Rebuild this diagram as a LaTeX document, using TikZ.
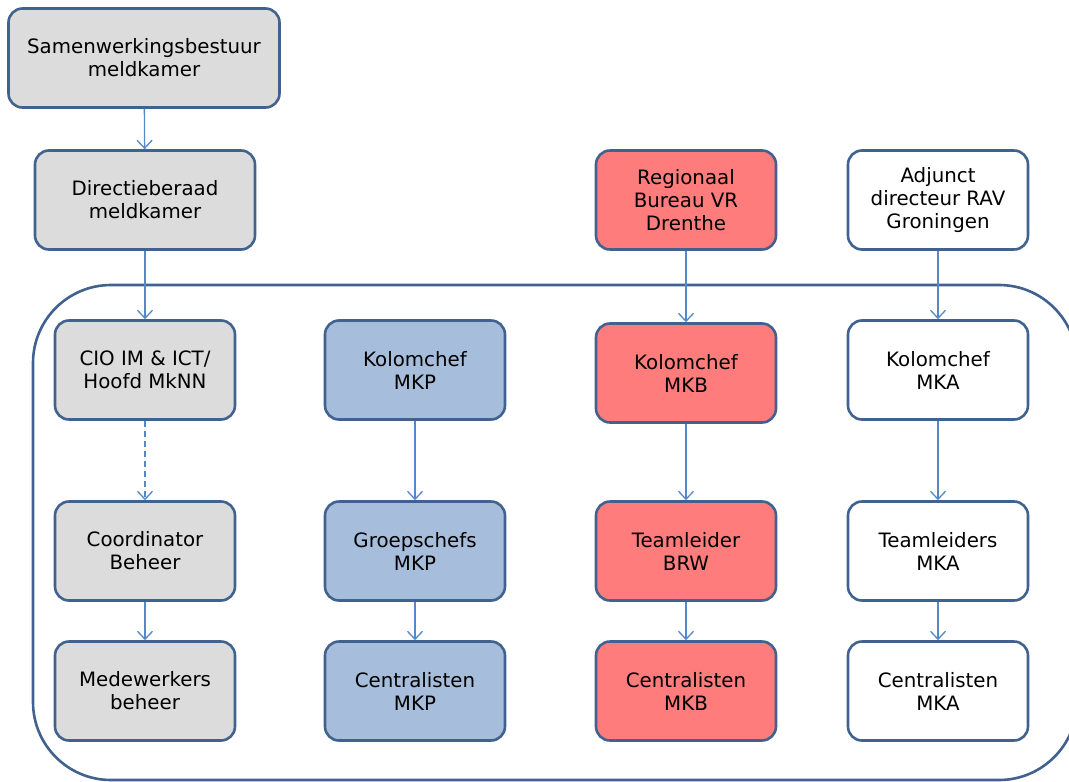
\documentclass[tikz,border=0pt]{standalone}
\usepackage{fontspec}
\setmainfont{DejaVu Sans}
\usetikzlibrary{arrows.meta}
\definecolor{bordc}{HTML}{41628F}
\definecolor{arrc}{HTML}{5588C8}
\definecolor{grayf}{HTML}{DCDCDC}
\definecolor{bluef}{HTML}{A6BEDC}
\definecolor{redf}{HTML}{FF7C7C}
\begin{document}
\begin{tikzpicture}[x=1pt,y=-1pt,
  orgbox/.style={draw=bordc,line width=2.6pt,rounded corners=14pt,minimum width=180pt,minimum height=99pt,align=center,inner sep=2pt,font=\fontsize{19.8}{23}\selectfont},
  grayb/.style={orgbox,fill=grayf},
  blueb/.style={orgbox,fill=bluef},
  redb/.style={orgbox,fill=redf},
  whiteb/.style={orgbox,fill=white},
  conn/.style={draw=arrc,line width=1.3pt,-{Straight Barb[length=8pt,width=15pt,line width=1.3pt]}}
]
\useasboundingbox (0,0) rectangle (1069,782);
\draw[bordc,line width=2.6pt,rounded corners=78pt] (33,285) rectangle (1077,780);

\node[grayb,minimum width=271pt] (sb) at (144,58) {Samenwerkingsbestuur\\meldkamer};
\node[grayb,minimum width=220pt] (db) at (145,200) {Directieberaad\\meldkamer};
\node[redb] (rb) at (686,200) {Regionaal\\Bureau VR\\Drenthe};
\node[whiteb] (ad) at (938,200) {Adjunct\\directeur RAV\\Groningen};

\node[grayb] (cio) at (145,370) {CIO IM \& ICT/\\Hoofd MkNN};
\node[blueb] (kp) at (415,370) {Kolomchef\\MKP};
\node[redb] (kb) at (686,373) {Kolomchef\\MKB};
\node[whiteb] (ka) at (938,370) {Kolomchef\\MKA};

\node[grayb] (co) at (145,551) {Coordinator\\Beheer};
\node[blueb] (gp) at (415,551) {Groepschefs\\MKP};
\node[redb] (tb) at (686,551) {Teamleider\\BRW};
\node[whiteb] (ta) at (938,551) {Teamleiders\\MKA};

\node[grayb] (mb) at (145,691) {Medewerkers\\beheer};
\node[blueb] (cp) at (415,691) {Centralisten\\MKP};
\node[redb] (cb) at (686,691) {Centralisten\\MKB};
\node[whiteb] (ca) at (938,691) {Centralisten\\MKA};

\draw[conn] (sb) -- (db);
\draw[conn] (db) -- (cio);
\draw[conn,dashed,dash pattern=on 6pt off 4pt] (cio) -- (co);
\draw[conn] (co) -- (mb);
\draw[conn] (kp) -- (gp);
\draw[conn] (gp) -- (cp);
\draw[conn] (rb) -- (kb);
\draw[conn] (kb) -- (tb);
\draw[conn] (tb) -- (cb);
\draw[conn] (ad) -- (ka);
\draw[conn] (ka) -- (ta);
\draw[conn] (ta) -- (ca);
\end{tikzpicture}
\end{document}
